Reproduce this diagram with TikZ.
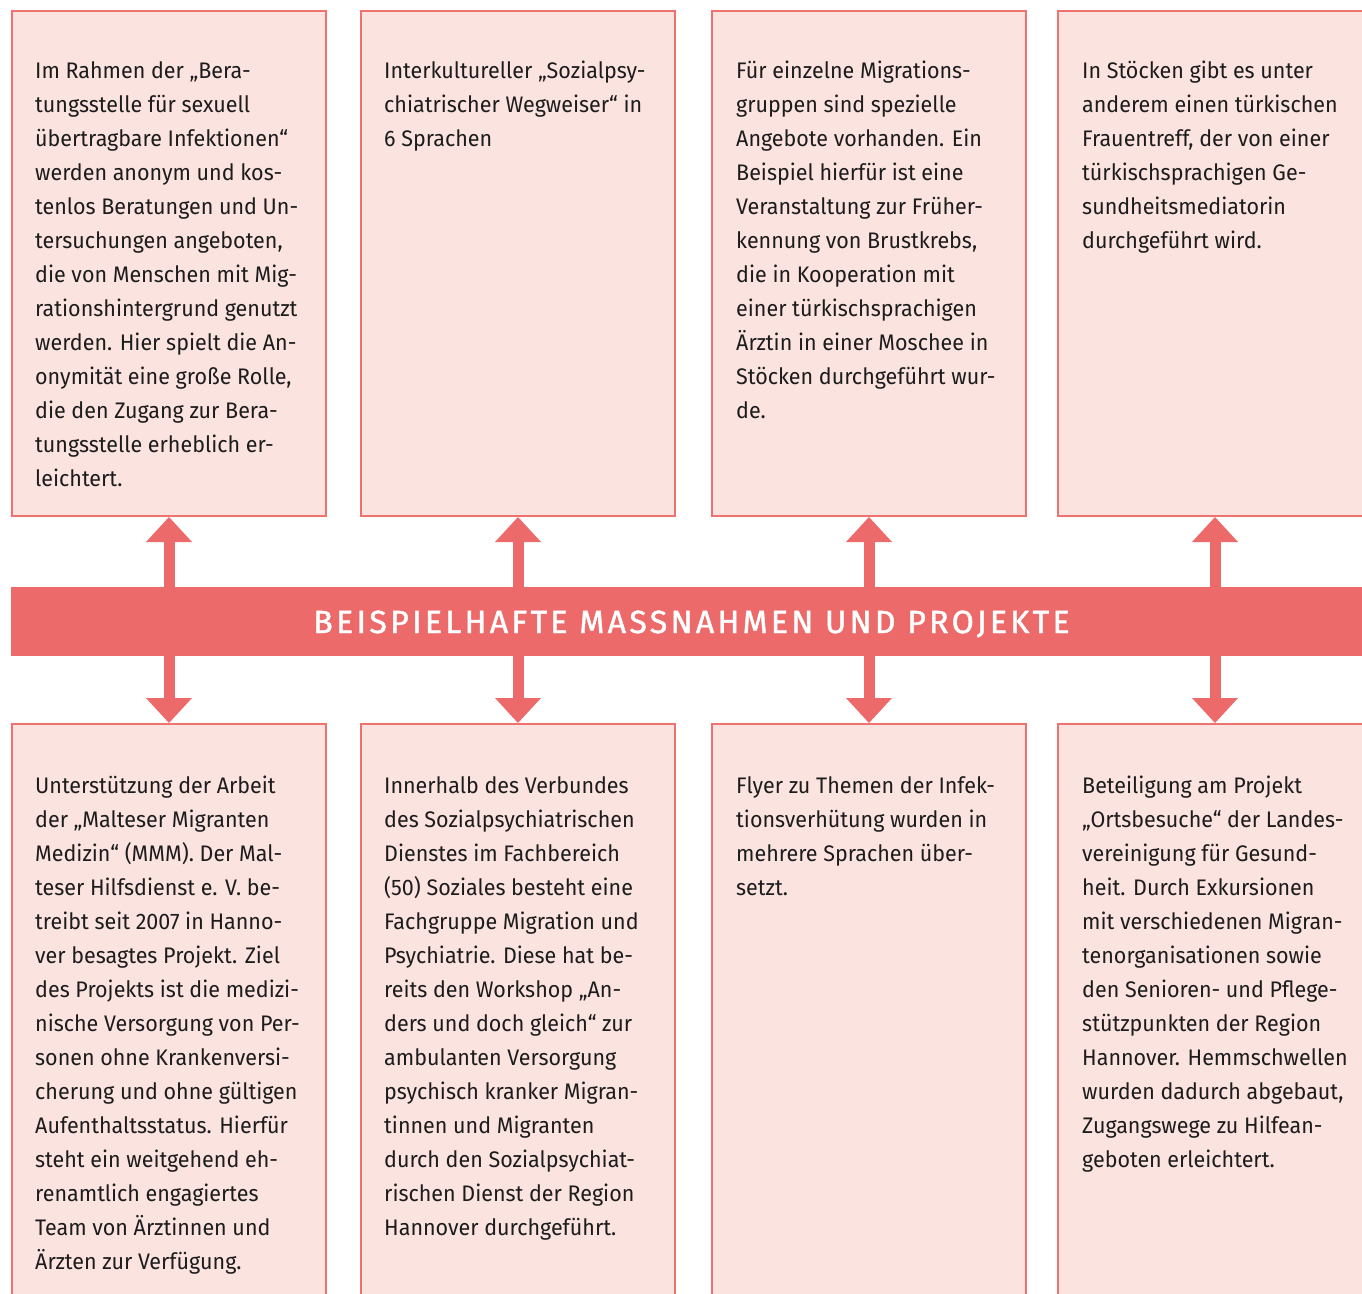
\documentclass[tikz,border=0pt]{standalone}
\usepackage{fontspec}
\setmainfont[FakeStretch=0.955]{Fira Sans}
\newfontfamily\bannerfont[LetterSpace=10.5,FakeBold=1.4]{Fira Sans}
\usetikzlibrary{arrows.meta}
\definecolor{bordercol}{RGB}{238,114,112}
\definecolor{bannercol}{RGB}{236,107,106}
\definecolor{boxfill}{RGB}{251,227,224}
\definecolor{txtcol}{RGB}{28,28,28}
\tikzset{
  infobox/.style={draw=bordercol, line width=2pt, fill=boxfill, minimum width=314pt, inner sep=0pt},
  topbox/.style={infobox, minimum height=505pt},
  botbox/.style={infobox, minimum height=598pt},
  boxtext/.style={anchor=north west, inner sep=0pt, align=left, text=txtcol, font=\fontsize{22.5}{34}\selectfont},
  conn/.style={draw=bannercol, line width=11pt, -{Triangle[width=46pt,length=25pt,line width=0pt]}},
}
\begin{document}
\begin{tikzpicture}[x=1pt,y=-1pt]
\useasboundingbox (0,0) rectangle (1362,1293);
\clip (0,0) rectangle (1362,1293);
% top boxes
\node[topbox] (t1) at (169,263.5) {};
\node[topbox] (t2) at (518,263.5) {};
\node[topbox] (t3) at (869,263.5) {};
\node[topbox] (t4) at (1215,263.5) {};
% bottom boxes
\node[botbox] (b1) at (169,1023) {};
\node[botbox] (b2) at (518,1023) {};
\node[botbox] (b3) at (869,1023) {};
\node[botbox] (b4) at (1215,1023) {};
% banner
\node[fill=bannercol, minimum width=1369pt, minimum height=69pt, inner sep=0pt] (banner) at (695.5,621.5) {};
\node[anchor=base, text=white, inner sep=0pt, font=\bannerfont\fontsize{32}{34}\selectfont] (bannertext) at (691.5,633) {BEISPIELHAFTE MASSNAHMEN UND PROJEKTE};
% arrows
\draw[conn] (banner.north -| t1.south) -- (t1.south);
\draw[conn] (banner.north -| t2.south) -- (t2.south);
\draw[conn] (banner.north -| t3.south) -- (t3.south);
\draw[conn] (banner.north -| t4.south) -- (t4.south);
\draw[conn] (banner.south -| b1.north) -- (b1.north);
\draw[conn] (banner.south -| b2.north) -- (b2.north);
\draw[conn] (banner.south -| b3.north) -- (b3.north);
\draw[conn] (banner.south -| b4.north) -- (b4.north);
% texts top
\node[boxtext] (tt1) at (35,54.2) {\strut Im Rahmen der „Bera-\\tungsstelle für sexuell\\übertragbare Infektionen“\\werden anonym und kos-\\tenlos Beratungen und Un-\\tersuchungen angeboten,\\die von Menschen mit Mig-\\rationshintergrund genutzt\\werden. Hier spielt die An-\\onymität eine große Rolle,\\die den Zugang zur Bera-\\tungsstelle erheblich er-\\leichtert.};
\node[boxtext] (tt2) at (384,54.2) {\strut Interkultureller „Sozialpsy-\\chiatrischer Wegweiser“ in\\6 Sprachen};
\node[boxtext] (tt3) at (736,54.2) {\strut Für einzelne Migrations-\\gruppen sind spezielle\\Angebote vorhanden. Ein\\Beispiel hierfür ist eine\\Veranstaltung zur Früher-\\kennung von Brustkrebs,\\die in Kooperation mit\\einer türkischsprachigen\\Ärztin in einer Moschee in\\Stöcken durchgeführt wur-\\de.};
\node[boxtext] (tt4) at (1082,54.2) {\strut In Stöcken gibt es unter\\anderem einen türkischen\\Frauentreff, der von einer\\türkischsprachigen Ge-\\sundheitsmediatorin\\durchgeführt wird.};
% texts bottom
\node[boxtext] (bt1) at (35,769.2) {\strut Unterstützung der Arbeit\\der „Malteser Migranten\\Medizin“ (MMM). Der Mal-\\teser Hilfsdienst e. V. be-\\treibt seit 2007 in Hanno-\\ver besagtes Projekt. Ziel\\des Projekts ist die medizi-\\nische Versorgung von Per-\\sonen ohne Krankenversi-\\cherung und ohne gültigen\\Aufenthaltsstatus. Hierfür\\steht ein weitgehend eh-\\renamtlich engagiertes\\Team von Ärztinnen und\\Ärzten zur Verfügung.};
\node[boxtext] (bt2) at (384,769.2) {\strut Innerhalb des Verbundes\\des Sozialpsychiatrischen\\Dienstes im Fachbereich\\(50) Soziales besteht eine\\Fachgruppe Migration und\\Psychiatrie. Diese hat be-\\reits den Workshop „An-\\ders und doch gleich“ zur\\ambulanten Versorgung\\psychisch kranker Migran-\\tinnen und Migranten\\durch den Sozialpsychiat-\\rischen Dienst der Region\\Hannover durchgeführt.};
\node[boxtext] (bt3) at (736,769.2) {\strut Flyer zu Themen der Infek-\\tionsverhütung wurden in\\mehrere Sprachen über-\\setzt.};
\node[boxtext] (bt4) at (1082,769.2) {\strut Beteiligung am Projekt\\„Ortsbesuche“ der Landes-\\vereinigung für Gesund-\\heit. Durch Exkursionen\\mit verschiedenen Migran-\\tenorganisationen sowie\\den Senioren- und Pflege-\\stützpunkten der Region\\Hannover. Hemmschwellen\\wurden dadurch abgebaut,\\Zugangswege zu Hilfean-\\geboten erleichtert.};
\end{tikzpicture}
\end{document}
